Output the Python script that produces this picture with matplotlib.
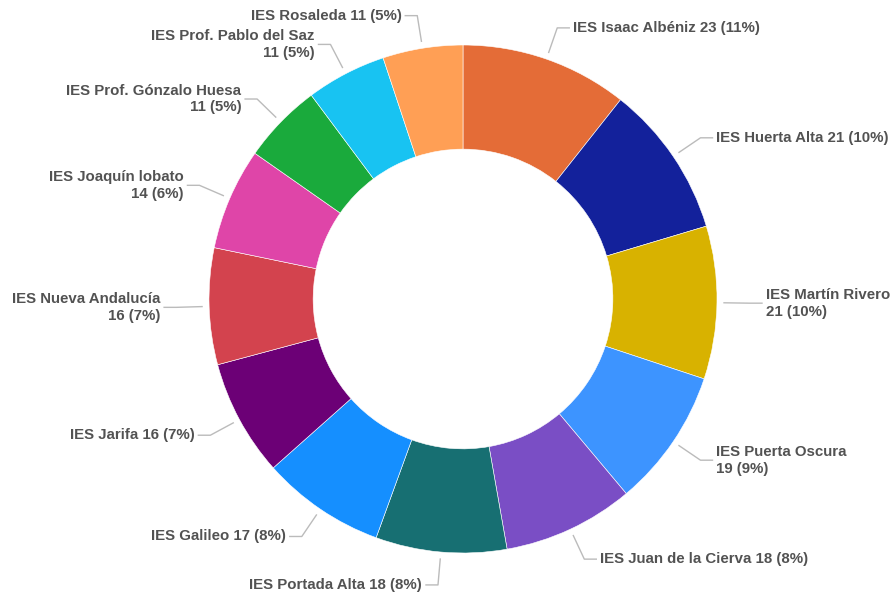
import numpy as np
import matplotlib.pyplot as plt

# Données : centros y número de alumnos
centros = [
    "IES Isaac Albéniz", "IES Huerta Alta", "IES Martín Rivero", "IES Puerta Oscura",
    "IES Juan de la Cierva", "IES Portada Alta", "IES Galileo", "IES Jarifa",
    "IES Nueva Andalucía", "IES Joaquín lobato", "IES Prof. Gónzalo Huesa",
    "IES Prof. Pablo del Saz", "IES Rosaleda",
]
valores = [23, 21, 21, 19, 18, 18, 17, 16, 16, 14, 11, 11, 11]
# etiquetas en dos líneas
dos_lineas = [False, False, True, True, False, False, False, False, True, True, True, True, False]
colores = [
    "#E46C37", "#13219B", "#D8B200", "#3D94FF", "#7A4EC5", "#176F72", "#158FFF",
    "#6C0076", "#D3434E", "#DF45A8", "#1AAA3C", "#18C3F2", "#FF9F55",
]

W, H = 895, 596
cx, cy, R = 463, 299, 254  # centro y radio en píxeles

fig = plt.figure(figsize=(W / 100, H / 100), dpi=100)
ax = fig.add_axes([0, 0, 1, 1])

wedges, _ = ax.pie(
    valores,
    colors=colores,
    startangle=90,
    counterclock=False,
    radius=1,
    wedgeprops=dict(width=0.41, edgecolor="white", linewidth=0.4),
)

total = sum(valores)
for w, nombre, v, dl in zip(wedges, centros, valores, dos_lineas):
    ang = np.deg2rad((w.theta1 + w.theta2) / 2)
    c, s = np.cos(ang), np.sin(ang)
    x0, y0 = 1.025 * c, 1.025 * s
    x1, y1 = 1.13 * c, 1.13 * s
    lado = 1 if c >= 0 else -1
    x2 = x1 + lado * 0.05
    ax.plot([x0, x1, x2], [y0, y1, y1], color="#BBBBBB", lw=1, solid_capstyle="butt")
    pct = round(v / total * 100)
    sep = "\n" if dl else " "
    texto = f"{nombre}{sep}{v} ({pct}%)"
    ax.text(
        x2 + lado * 0.012, y1, texto,
        ha="left" if lado > 0 else "right", va="center",
        multialignment="left" if lado > 0 else "right",
        fontsize=10.8, fontweight="bold", color="#525252",
        family="Liberation Sans", linespacing=1.25,
    )

ax.set_xlim(-cx / R, (W - cx) / R)
ax.set_ylim(-(H - cy) / R, cy / R)
ax.axis("off")

plt.savefig("out.png", dpi=100)
